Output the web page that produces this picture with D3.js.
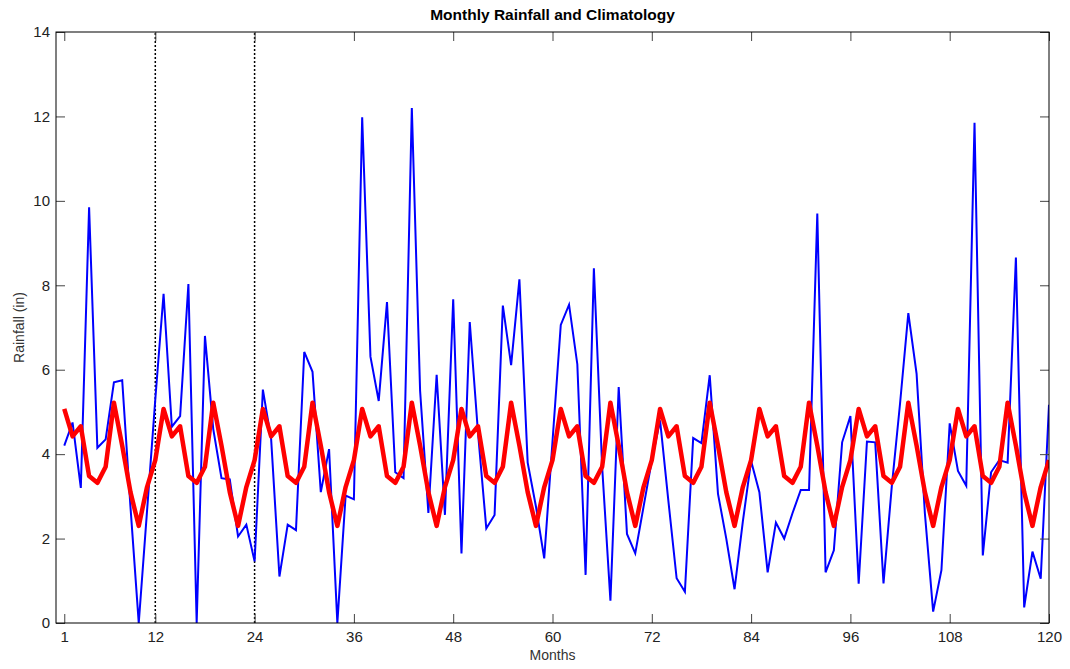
<!DOCTYPE html>
<meta charset="utf-8">
<style>
  body { margin: 0; background: #fff; }
  text { font-family: Arial, "Liberation Sans", sans-serif; }
</style>

<!-- Load d3.js -->
<script src="https://d3js.org/d3.v7.min.js"></script>

<div id="my_chart"></div>

<script>

// canvas size and plot box
const width = 1070,
    height = 669;
const margin = {top: 32, right: 21, bottom: 46, left: 56};

// monthly rainfall (in), months 1..120
const rainfall = [4.2, 4.75, 3.2, 9.85, 4.15, 4.35, 5.7, 5.75, 2.75, 0.0, 2.65, 5.3,
  7.8, 4.65, 4.9, 8.03, 0.0, 6.8, 4.6, 3.43, 3.4, 2.05, 2.33, 1.46,
  5.53, 4.35, 1.1, 2.33, 2.2, 6.42, 5.95, 3.1, 4.12, 0.0, 3.02, 2.93,
  11.98, 6.31, 5.26, 7.6, 3.57, 3.43, 12.2, 5.5, 2.61, 5.88, 2.56, 7.67,
  1.65, 7.13, 4.5, 2.24, 2.56, 7.52, 6.11, 8.14, 3.8, 2.76, 1.53, 4.3,
  7.06, 7.54, 6.13, 1.14, 8.4, 3.7, 0.53, 5.59, 2.11, 1.65, 2.75, 3.85,
  4.8, 2.9, 1.06, 0.74, 4.38, 4.26, 5.87, 3.06, 2.0, 0.8, 2.4, 3.84,
  3.1, 1.2, 2.38, 2.0, 2.6, 3.15, 3.15, 9.7, 1.2, 1.72, 4.28, 4.9,
  0.93, 4.3, 4.28, 0.94, 3.23, 5.2, 7.34, 5.9, 2.6, 0.27, 1.25, 4.73,
  3.6, 3.25, 11.85, 1.6, 3.57, 3.86, 3.8, 8.66, 0.37, 1.69, 1.05, 5.17];

// climatology for one year, repeated each year
const climatology = [5.07, 4.42, 4.66, 3.48, 3.32, 3.7, 5.22, 4.2, 3.1, 2.3, 3.22, 3.86];

// tick labels and marker lines
const xTicks = [1, 12, 24, 36, 48, 60, 72, 84, 96, 108, 120];
const yTicks = [0, 2, 4, 6, 8, 10, 12, 14];
const markerMonths = [12, 24];

const svg = d3.select("#my_chart")
  .append("svg")
    .attr("width", width)
    .attr("height", height);

const x = d3.scaleLinear().domain([0, 120]).range([margin.left, width - margin.right]);
const y = d3.scaleLinear().domain([0, 14]).range([height - margin.bottom, margin.top]);

const rainData = rainfall.map((v, i) => [i + 1, v]);
const climData = rainfall.map((v, i) => [i + 1, climatology[i % 12]]);

const line = d3.line()
  .x(d => x(d[0]))
  .y(d => y(d[1]));

// clip to the plot box
svg.append("clipPath").attr("id", "clip")
  .append("rect")
    .attr("x", x(0)).attr("y", y(14))
    .attr("width", x(120) - x(0)).attr("height", y(0) - y(14));

// dotted marker lines
svg.selectAll("marker-line")
  .data(markerMonths)
  .join("line")
    .attr("x1", d => x(d)).attr("x2", d => x(d))
    .attr("y1", y(0)).attr("y2", y(14))
    .attr("stroke", "#000")
    .attr("stroke-width", 1.5)
    .attr("stroke-dasharray", "2,2");

const plot = svg.append("g").attr("clip-path", "url(#clip)");

plot.append("path")
  .datum(rainData)
  .attr("d", line)
  .attr("fill", "none")
  .attr("stroke", "#0000ff")
  .attr("stroke-width", 2);

plot.append("path")
  .datum(climData)
  .attr("d", line)
  .attr("fill", "none")
  .attr("stroke", "#ff0000")
  .attr("stroke-width", 4.5)
  .attr("stroke-linejoin", "round");

// axes: ticks point inwards on all four sides
const tickLen = 9;
svg.append("g")
  .attr("transform", `translate(0,${y(0)})`)
  .call(d3.axisBottom(x).tickValues(xTicks).tickSizeInner(-tickLen).tickSizeOuter(0).tickPadding(5))
  .call(g => g.select(".domain").remove())
  .call(g => g.selectAll("text").attr("font-size", "15px").attr("fill", "#222").attr("dy", "0.95em"))
  .call(g => g.selectAll("line").attr("stroke", "#444"));

svg.append("g")
  .attr("transform", `translate(0,${y(14)})`)
  .call(d3.axisTop(x).tickValues(xTicks).tickSizeInner(-tickLen).tickSizeOuter(0).tickFormat(""))
  .call(g => g.select(".domain").remove())
  .call(g => g.selectAll("line").attr("stroke", "#444"));

svg.append("g")
  .attr("transform", `translate(${x(0)},0)`)
  .call(d3.axisLeft(y).tickValues(yTicks).tickSizeInner(-tickLen).tickSizeOuter(0).tickPadding(6))
  .call(g => g.select(".domain").remove())
  .call(g => g.selectAll("text").attr("font-size", "15px").attr("fill", "#222").attr("x", -6))
  .call(g => g.selectAll("line").attr("stroke", "#444"));

svg.append("g")
  .attr("transform", `translate(${x(120)},0)`)
  .call(d3.axisRight(y).tickValues(yTicks).tickSizeInner(-tickLen).tickSizeOuter(0).tickFormat(""))
  .call(g => g.select(".domain").remove())
  .call(g => g.selectAll("line").attr("stroke", "#444"));

// plot box
svg.append("rect")
  .attr("x", x(0)).attr("y", y(14))
  .attr("width", x(120) - x(0)).attr("height", y(0) - y(14))
  .attr("fill", "none")
  .attr("stroke", "#000")
  .attr("stroke-width", 1);

// title and axis labels
svg.append("text")
  .attr("x", (x(0) + x(120)) / 2).attr("y", 20)
  .attr("text-anchor", "middle")
  .attr("font-size", "15.5px").attr("font-weight", "bold")
  .text("Monthly Rainfall and Climatology");

svg.append("text")
  .attr("x", (x(0) + x(120)) / 2).attr("y", 660)
  .attr("text-anchor", "middle")
  .attr("font-size", "14px").attr("fill", "#333")
  .text("Months");

svg.append("text")
  .attr("transform", `translate(24,${(y(0) + y(14)) / 2}) rotate(-90)`)
  .attr("text-anchor", "middle")
  .attr("font-size", "14px").attr("fill", "#333")
  .text("Rainfall (in)");
</script>
